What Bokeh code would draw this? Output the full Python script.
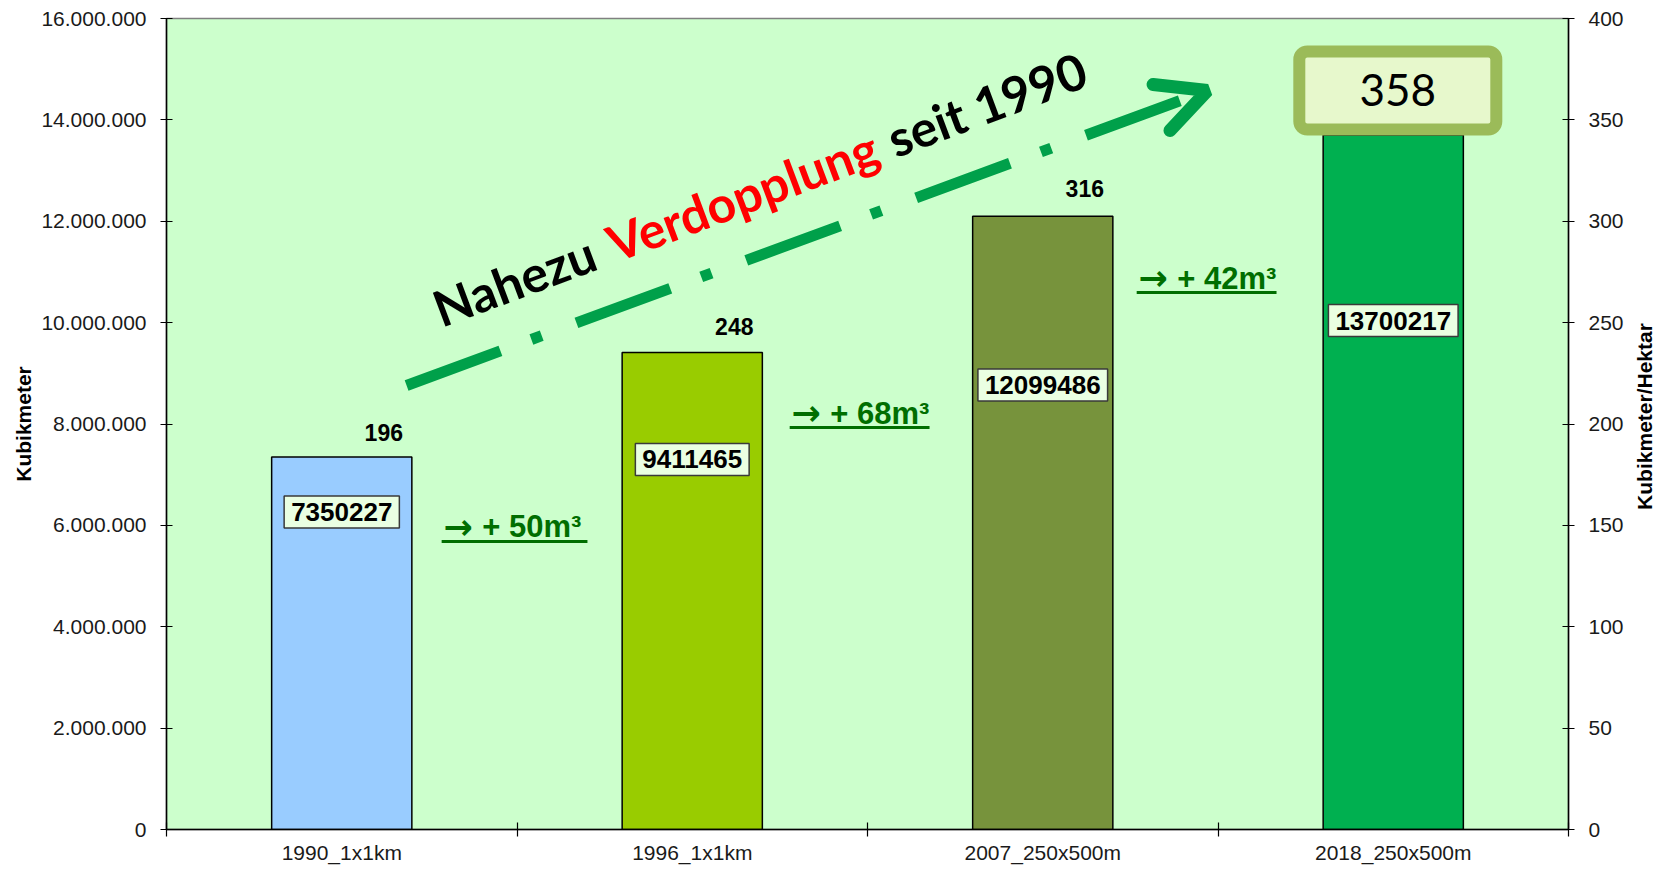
import math
from bokeh.plotting import figure
from bokeh.layouts import row
from bokeh.models import (Range1d, LinearAxis, FixedTicker, CustomJSTickFormatter,
                          ColumnDataSource, Arrow, OpenHead)
from bokeh.core.properties import value
from bokeh.embed import file_html
from bokeh.resources import INLINE

# ---------------- data ----------------
categories = ["1990_1x1km", "1996_1x1km", "2007_250x500m", "2018_250x500m"]
volume_m3 = [7350227, 9411465, 12099486, 13700217]
per_hectare = [196, 248, 316, 358]
increase_labels = ["50", "68", "42"]
bar_colors = ["#99CCFF", "#99CC00", "#77933C", "#00B050"]
left_ticks = [0, 2000000, 4000000, 6000000, 8000000, 10000000, 12000000, 14000000, 16000000]
right_ticks = [0, 50, 100, 150, 200, 250, 300, 350, 400]
left_title = "Kubikmeter"
right_title = "Kubikmeter/Hektar"

# ---------------- annotation placement ----------------
volume_label_y = [6264000, 7300000, 8770000, 10040000]
increase_x = [0.790, 1.783, 2.773]          # left edge of the arrow glyph
increase_y = [149.4, 205.2, 272.0]          # text centre (right axis units)
underline_x1 = [1.201, 2.177, 3.167]
underline_y = [142.0, 198.3, 264.9]

FONT = "Liberation Sans"
GREEN_LINE = "#00A04A"
DARK_GREEN = "#006E00"
H = 866

xs = [i + 0.5 for i in range(len(categories))]

p = figure(width=1628, height=H, output_backend="svg", toolbar_location=None,
           x_range=Range1d(0, len(categories)), y_range=Range1d(0, 16000000),
           min_border_left=166, min_border_right=60, min_border_top=18, min_border_bottom=37,
           background_fill_color="#CCFFCC", border_fill_color="white")
p.extra_y_ranges = {"ha": Range1d(0, 400)}
p.xgrid.visible = False
p.ygrid.visible = False
p.outline_line_color = "#808080"
p.outline_line_width = 1.5

# x axis
xa = p.xaxis[0]
xa.ticker = FixedTicker(ticks=xs, minor_ticks=list(range(len(categories) + 1)))
xa.major_label_overrides = {x: c for x, c in zip(xs, categories)}
xa.major_tick_in = 0
xa.major_tick_out = 0
xa.minor_tick_in = 7
xa.minor_tick_out = 7
xa.minor_tick_line_color = "black"
xa.minor_tick_line_width = 1.2
xa.axis_line_color = "black"
xa.axis_line_width = 1.5
xa.major_label_text_font = FONT
xa.major_label_text_font_size = "21px"
xa.major_label_text_color = "#1a1a1a"
xa.major_label_standoff = 4

# left axis
ya = p.yaxis[0]
ya.ticker = FixedTicker(ticks=left_ticks)
ya.formatter = CustomJSTickFormatter(
    code="return Math.round(tick).toString().replace(/\\B(?=(\\d{3})+(?!\\d))/g, '.');")
ya.major_tick_in = 6
ya.major_tick_out = 6
ya.major_tick_line_color = "black"
ya.minor_tick_line_color = None
ya.axis_line_color = "black"
ya.axis_line_width = 1.5
ya.major_label_text_font = FONT
ya.major_label_text_font_size = "21px"
ya.major_label_text_color = "#1a1a1a"
ya.major_label_standoff = 14
ya.axis_label = left_title
ya.axis_label_text_font = FONT
ya.axis_label_text_font_style = "bold"
ya.axis_label_text_font_size = "21px"
ya.axis_label_text_color = "black"
ya.axis_label_standoff = 3

# right axis (ticks and numbers)
ra = LinearAxis(y_range_name="ha", ticker=FixedTicker(ticks=right_ticks))
ra.major_tick_in = 6
ra.major_tick_out = 6
ra.major_tick_line_color = "black"
ra.minor_tick_line_color = None
ra.axis_line_color = "black"
ra.axis_line_width = 1.5
ra.major_label_text_font = FONT
ra.major_label_text_font_size = "21px"
ra.major_label_text_color = "#1a1a1a"
ra.major_label_standoff = 14
p.add_layout(ra, "right")

# bars
src = ColumnDataSource(dict(x=xs, top=volume_m3, color=bar_colors))
p.vbar(x="x", top="top", bottom=0, width=0.4, fill_color="color",
       line_color="black", line_width=1.5, source=src)

# volume labels inside bars
p.text(x=xs, y=volume_label_y, text=[str(v) for v in volume_m3],
       text_font=value(FONT), text_font_style="bold", text_font_size="26px",
       text_color="black", text_align="center", text_baseline="middle",
       background_fill_color="#EAFFE2", border_line_color="#3a3a3a",
       border_line_width=1.5, padding=7)

# per hectare labels (first three)
p.text(x=[x + 0.12 for x in xs[:3]], y=per_hectare[:3], text=[str(v) for v in per_hectare[:3]],
       y_range_name="ha", text_font=value(FONT), text_font_style="bold",
       text_font_size="23px", text_color="black", text_align="center",
       text_baseline="middle")

# increase labels: arrow glyph + text + underline
p.text(x=increase_x, y=increase_y, text=["\u2192"] * len(increase_labels),
       y_range_name="ha", text_font=value("DejaVu Sans"), text_font_style="bold",
       text_font_size="35px", text_color=DARK_GREEN, text_align="left",
       text_baseline="middle")
p.text(x=[x + 0.111 for x in increase_x], y=increase_y,
       text=["+ %sm\u00b3" % v for v in increase_labels],
       y_range_name="ha", text_font=value(FONT), text_font_style="bold",
       text_font_size="31px", text_color=DARK_GREEN, text_align="left",
       text_baseline="middle")
p.segment(x0=[x - 0.005 for x in increase_x], x1=underline_x1, y0=underline_y, y1=underline_y,
          y_range_name="ha", line_color=DARK_GREEN, line_width=3)

# dash-dot trend arrow
arrow = Arrow(x_start=0.685, y_start=8760000, x_end=2.970, y_end=14579000,
              line_color=GREEN_LINE, line_width=11, line_dash="100 33 11 37",
              end=OpenHead(size=49, line_color=GREEN_LINE, line_width=13, line_cap="round"))
p.add_layout(arrow)

# rotated headline
p.text(x=[0.766, 1.263, 2.062], y=[10243000, 11527000, 13593000],
       text=["Nahezu", "Verdopplung", "seit 1990"],
       text_color=["black", "#FF0000", "black"], angle=math.radians(20.5),
       text_font=value("Lato"), text_font_style="bold", text_font_size="50px",
       text_align="left", text_baseline="alphabetic")

# box with last per-hectare value
p.rect(x=[3.513], y=[364.5], width=197, height=78, width_units="screen",
       height_units="screen", y_range_name="ha", fill_color="#E7F8CC",
       line_color="#9BBB59", line_width=12, border_radius=8)
p.text(x=[3.513], y=[364.5], text=[str(per_hectare[-1])], y_range_name="ha",
       text_font=value("Lato"), text_font_size="44px", text_color="black",
       text_align="center", text_baseline="middle")

# narrow side panel carrying the right axis title (reads bottom to top)
t = figure(width=30, height=H, output_backend="svg", toolbar_location=None,
           x_range=Range1d(0, 30), y_range=Range1d(0, H),
           x_axis_location=None, y_axis_location=None,
           min_border=0, background_fill_color="white", border_fill_color="white")
t.outline_line_color = None
t.xgrid.visible = False
t.ygrid.visible = False
t.text(x=[16], y=[H - 425], text=[right_title], angle=math.pi / 2,
       text_font=value(FONT), text_font_style="bold", text_font_size="21px",
       text_color="black", text_align="center", text_baseline="middle")

layout = row(p, t, spacing=0)
open("out.html", "w").write(file_html(layout, INLINE))
